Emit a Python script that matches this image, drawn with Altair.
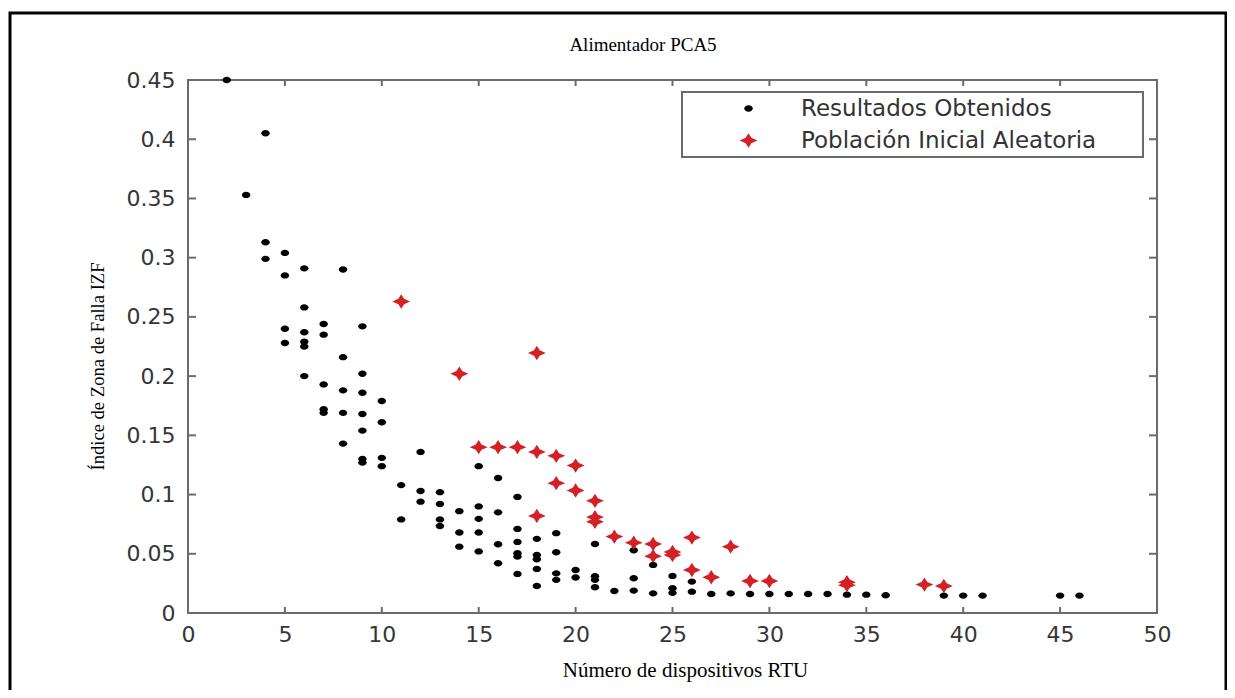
import altair as alt
import pandas as pd

series = ["Resultados Obtenidos", "Población Inicial Aleatoria"]

black_x = [2,
           3,
           4, 4, 4,
           5, 5, 5, 5,
           6, 6, 6, 6, 6, 6,
           7, 7, 7, 7, 7,
           8, 8, 8, 8, 8,
           9, 9, 9, 9, 9, 9, 9,
           10, 10, 10, 10,
           11, 11,
           12, 12, 12,
           13, 13, 13, 13,
           14, 14, 14,
           15, 15, 15, 15, 15,
           16, 16, 16, 16,
           17, 17, 17, 17, 17, 17,
           18, 18, 18, 18, 18,
           19, 19, 19, 19,
           20, 20,
           21, 21, 21, 21,
           22,
           23, 23, 23,
           24, 24,
           25, 25, 25,
           26, 26,
           27, 28, 29, 30, 31, 32, 33, 34, 35, 36,
           39, 40, 41, 45, 46]
black_y = [0.450,
           0.353,
           0.405, 0.313, 0.299,
           0.304, 0.285, 0.240, 0.228,
           0.291, 0.258, 0.237, 0.229, 0.225, 0.200,
           0.244, 0.235, 0.193, 0.172, 0.169,
           0.290, 0.216, 0.188, 0.169, 0.143,
           0.242, 0.202, 0.186, 0.168, 0.154, 0.130, 0.127,
           0.179, 0.161, 0.131, 0.124,
           0.108, 0.079,
           0.136, 0.103, 0.094,
           0.102, 0.092, 0.079, 0.0735,
           0.086, 0.068, 0.056,
           0.124, 0.090, 0.0795, 0.068, 0.052,
           0.114, 0.085, 0.058, 0.042,
           0.098, 0.071, 0.060, 0.0505, 0.0476, 0.033,
           0.0626, 0.049, 0.0454, 0.0372, 0.0228,
           0.0674, 0.0513, 0.0335, 0.028,
           0.0363, 0.030,
           0.0583, 0.031, 0.028, 0.0217,
           0.0186,
           0.053, 0.0293, 0.0189,
           0.0406, 0.0166,
           0.0313, 0.021, 0.017,
           0.0265, 0.018,
           0.016, 0.0166, 0.016, 0.016, 0.016, 0.016, 0.016, 0.0155, 0.0155, 0.015,
           0.0147, 0.0147, 0.0147, 0.0147, 0.0147]

red_x = [11, 14, 18, 15, 16, 17, 18, 19, 20, 19, 20, 21, 21, 21, 18, 22,
         23, 24, 24, 25, 25, 26, 26, 28, 27, 29, 30, 34, 34, 38, 39]
red_y = [0.263, 0.202, 0.2195, 0.140, 0.140, 0.140, 0.136, 0.1327, 0.1245,
         0.1096, 0.1034, 0.0947, 0.081, 0.077, 0.082, 0.0645, 0.0594, 0.0583,
         0.048, 0.0515, 0.049, 0.0637, 0.0363, 0.056, 0.0302, 0.027, 0.027,
         0.026, 0.0235, 0.024, 0.0228]

x_ticks = [0, 5, 10, 15, 20, 25, 30, 35, 40, 45, 50]
y_ticks = [0, 0.05, 0.1, 0.15, 0.2, 0.25, 0.3, 0.35, 0.4, 0.45]

df = pd.DataFrame({
    "x": black_x + red_x,
    "y": black_y + red_y,
    "serie": [series[0]] * len(black_x) + [series[1]] * len(red_x),
})

W, H = 969, 533
FRAME = "#6b6b6b"
ellipse = "M-1,0A1,0.75,0,1,0,1,0A1,0.75,0,1,0,-1,0Z"
star = "M0,-0.8L0.32,-0.3L1,0L0.32,0.3L0,0.8L-0.32,0.3L-1,0L-0.32,-0.3Z"

xs = alt.Scale(domain=[0, 50], nice=False, zero=False)
ys = alt.Scale(domain=[0, 0.45], nice=False)

leg = alt.Legend(orient="none", legendX=549, legendY=17, labelFont="DejaVu Sans",
                 labelFontSize=23, labelColor="#333333", symbolOffset=0,
                 labelOffset=41, rowPadding=8, padding=0, labelLimit=600)

x_axis = alt.Axis(values=x_ticks, title="Número de dispositivos RTU",
                  titleFont="Liberation Serif", titleFontSize=21, titleFontWeight="normal",
                  titleColor="black", titleX=497, titleY=57, titleBaseline="middle",
                  titleAlign="center", labelFont="DejaVu Sans", labelFontSize=22,
                  labelColor="#363636", labelPadding=21, labelBaseline="middle",
                  ticks=False, tickSize=0, domain=False, grid=False, labelFlush=False)
y_axis = alt.Axis(values=y_ticks, title="Índice de Zona de Falla IZF",
                  titleFont="Liberation Serif", titleFontSize=18.6, titleFontWeight="normal",
                  titleColor="black", titleX=-91, titleY=286, titleAngle=270,
                  titleBaseline="middle", titleAlign="center",
                  labelFont="DejaVu Sans", labelFontSize=22, labelColor="#363636",
                  labelPadding=13, ticks=False, tickSize=0, domain=False, grid=False,
                  labelFlush=False, labelExpr="format(datum.value, '.2~f')")

points = alt.Chart(df).mark_point(filled=True, opacity=1).encode(
    x=alt.X("x:Q", scale=xs, axis=x_axis),
    y=alt.Y("y:Q", scale=ys, axis=y_axis),
    color=alt.Color("serie:N", scale=alt.Scale(domain=series, range=["#000000", "#d42027"]),
                    legend=leg, title=None),
    shape=alt.Shape("serie:N", scale=alt.Scale(domain=series, range=[ellipse, star]),
                    legend=leg, title=None),
    size=alt.Size("serie:N", scale=alt.Scale(domain=series, range=[72, 320]),
                  legend=leg, title=None),
)

one = pd.DataFrame({"a": [0]})
border = alt.Chart(one).mark_rect(fillOpacity=0, stroke="black", strokeWidth=3).encode(
    x=alt.value(-178), x2=alt.value(1038), y=alt.value(-67), y2=alt.value(800))
legend_box = alt.Chart(one).mark_rect(fill="white", stroke=FRAME, strokeWidth=2).encode(
    x=alt.value(494), x2=alt.value(955), y=alt.value(12), y2=alt.value(77))
title = alt.Chart(one).mark_text(text="Alimentador PCA5", font="Liberation Serif",
                                 fontSize=19, color="black", align="center",
                                 baseline="middle").encode(
    x=alt.value(455), y=alt.value(-35))

xt = pd.DataFrame({"v": x_ticks})
yt = pd.DataFrame({"v": y_ticks})
tick_bottom = alt.Chart(xt).mark_rule(color=FRAME, strokeWidth=2).encode(
    x=alt.X("v:Q", scale=xs, axis=x_axis), y=alt.value(H), y2=alt.value(H - 6))
tick_top = alt.Chart(xt).mark_rule(color=FRAME, strokeWidth=2).encode(
    x=alt.X("v:Q", scale=xs, axis=x_axis), y=alt.value(0), y2=alt.value(6))
tick_left = alt.Chart(yt).mark_rule(color=FRAME, strokeWidth=2).encode(
    y=alt.Y("v:Q", scale=ys, axis=y_axis), x=alt.value(0), x2=alt.value(8))
tick_right = alt.Chart(yt).mark_rule(color=FRAME, strokeWidth=2).encode(
    y=alt.Y("v:Q", scale=ys, axis=y_axis), x=alt.value(W), x2=alt.value(W - 8))

chart = alt.layer(border, legend_box, title, tick_bottom, tick_top, tick_left,
                  tick_right, points).properties(
    width=W, height=H,
    autosize="none",
    padding={"left": 180, "top": 72, "right": 70, "bottom": 77},
    background="white",
).configure_view(stroke=FRAME, strokeWidth=2)

chart.save("out.html", embed_options={"renderer": "svg", "actions": False})
